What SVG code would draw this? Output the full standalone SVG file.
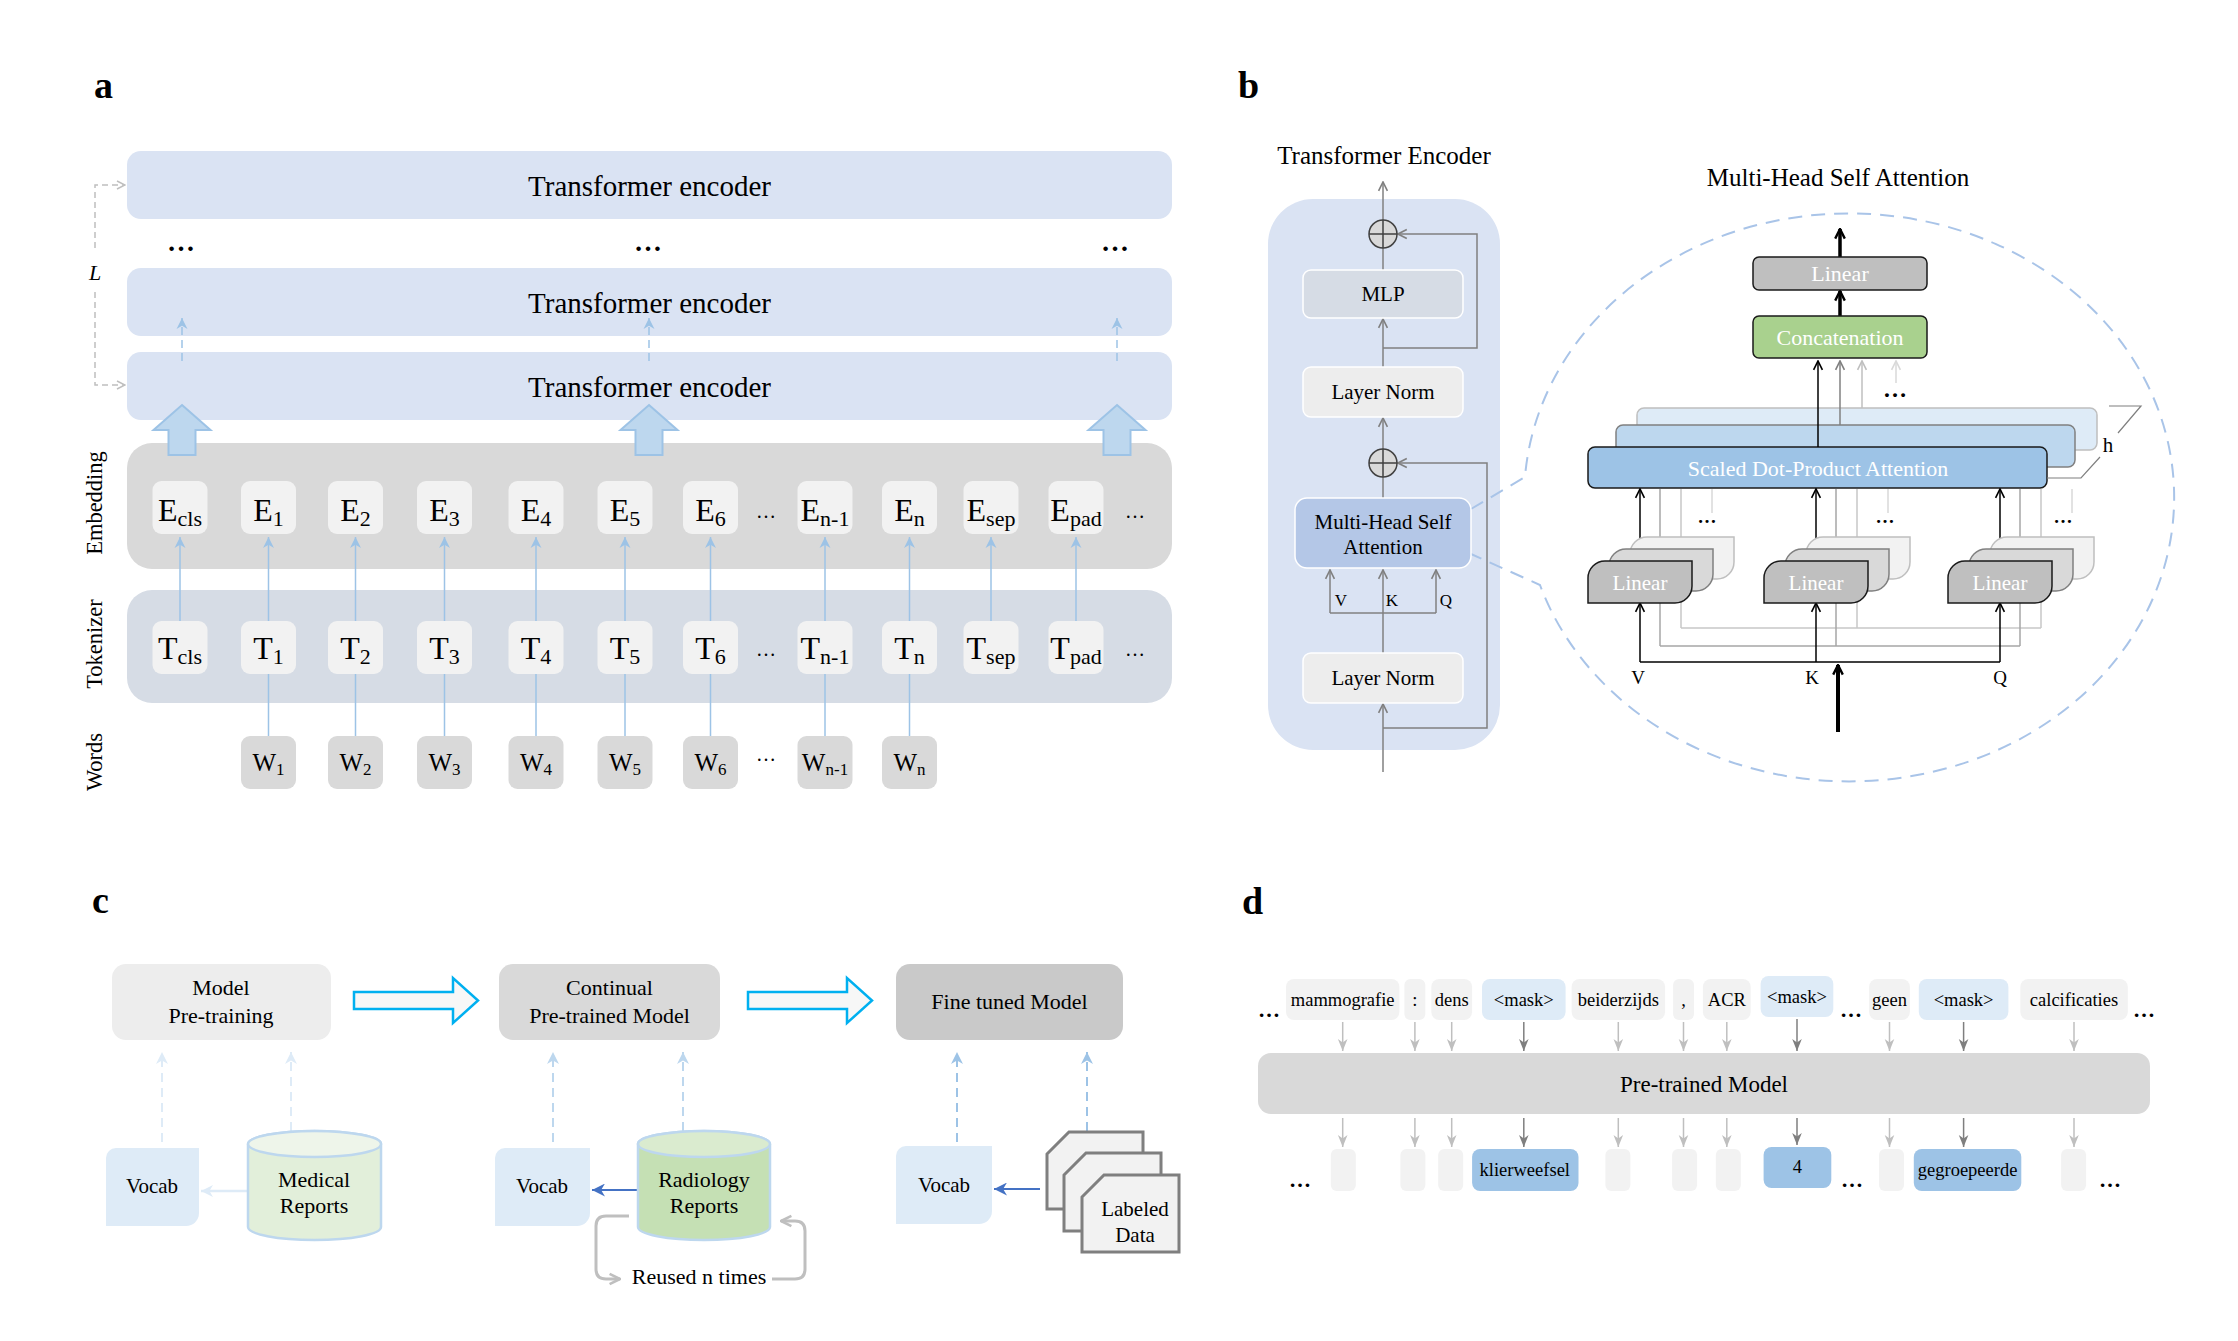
<svg xmlns="http://www.w3.org/2000/svg" width="2238" height="1341" viewBox="0 0 2238 1341">
<defs>
<style>
text{font-family:"Liberation Serif","Times New Roman",serif;fill:#000}
.pl{font-size:38px;font-weight:bold}
.m{text-anchor:middle}
.enc{fill:#dae3f3}
.tk{fill:#f2f2f2}
.wd{fill:#d9d9d9}
.t28{font-size:29px;text-anchor:middle}
.etx{font-size:32px;text-anchor:middle}
.wtx{font-size:25px;text-anchor:middle}
.sub{font-size:22px}
.wsub{font-size:17px}
.side{font-size:22.5px;text-anchor:middle}
.ca{stroke:#9dc3e6;stroke-width:1.5;fill:none}
.gl{stroke:#808080;stroke-width:1.5;fill:none}
.bk{stroke:#000;stroke-width:1.5;fill:none}
.bb{fill:#ededed;stroke:#fff;stroke-width:1.5}
.t20{font-size:21px;text-anchor:middle}
.t21{font-size:21px;text-anchor:middle}
.t22{font-size:22px;text-anchor:middle}
.wt{fill:#fff}
.f1{fill:#bfbfbf;stroke:#1a1a1a;stroke-width:1.5}
.f2{fill:#d9d9d9;stroke:#808080;stroke-width:1.5}
.f3{fill:#f2f2f2;stroke:#bfbfbf;stroke-width:1.5}
.voc{fill:#deebf7}
.lab{fill:#f2f2f2;stroke:#7f7f7f;stroke-width:3}
.dt{fill:#f2f2f2}
.dm{fill:#deebf7}
.db{fill:#9dc3e6}
.t18{font-size:18.5px;text-anchor:middle}
.dots{font-weight:bold;text-anchor:middle}
</style>
<marker id="mBlue" viewBox="0 0 10 10" refX="10" refY="5" markerWidth="11" markerHeight="13" markerUnits="userSpaceOnUse" orient="auto"><path d="M0,0 L10,5 L0,10 L3,5 Z" fill="#9dc3e6"/></marker>
<marker id="mLoop" viewBox="0 0 10 10" refX="9" refY="5" markerWidth="10" markerHeight="12" markerUnits="userSpaceOnUse" orient="auto"><path d="M1,1 L9,5 L1,9" fill="none" stroke="#bfbfbf" stroke-width="1.5"/></marker>
<marker id="mGray" viewBox="0 0 10 10" refX="9" refY="5" markerWidth="11" markerHeight="12" markerUnits="userSpaceOnUse" orient="auto"><path d="M1,1 L9,5 L1,9" fill="none" stroke="#808080" stroke-width="1.5"/></marker>
<marker id="mBlack" viewBox="0 0 10 10" refX="9" refY="5" markerWidth="11" markerHeight="12" markerUnits="userSpaceOnUse" orient="auto"><path d="M1,1 L9,5 L1,9" fill="none" stroke="#000" stroke-width="1.5"/></marker>
<marker id="mThick" viewBox="0 0 10 10" refX="9" refY="5" markerWidth="12" markerHeight="14" markerUnits="userSpaceOnUse" orient="auto"><path d="M1,1 L9,5 L1,9" fill="none" stroke="#000" stroke-width="2"/></marker>
<marker id="mG2" viewBox="0 0 10 10" refX="9" refY="5" markerWidth="11" markerHeight="12" markerUnits="userSpaceOnUse" orient="auto"><path d="M1,1 L9,5 L1,9" fill="none" stroke="#808080" stroke-width="1.5"/></marker>
<marker id="mG3" viewBox="0 0 10 10" refX="9" refY="5" markerWidth="11" markerHeight="12" markerUnits="userSpaceOnUse" orient="auto"><path d="M1,1 L9,5 L1,9" fill="none" stroke="#bfbfbf" stroke-width="1.5"/></marker>
<marker id="mG4" viewBox="0 0 10 10" refX="9" refY="5" markerWidth="11" markerHeight="12" markerUnits="userSpaceOnUse" orient="auto"><path d="M1,1 L9,5 L1,9" fill="none" stroke="#d9d9d9" stroke-width="1.5"/></marker>
<marker id="mC1" viewBox="0 0 10 10" refX="10" refY="5" markerWidth="12" markerHeight="12" markerUnits="userSpaceOnUse" orient="auto"><path d="M0,0 L10,5 L0,10 L3,5 Z" fill="#deebf7"/></marker>
<marker id="mC2" viewBox="0 0 10 10" refX="10" refY="5" markerWidth="12" markerHeight="12" markerUnits="userSpaceOnUse" orient="auto"><path d="M0,0 L10,5 L0,10 L3,5 Z" fill="#bdd7ee"/></marker>
<marker id="mC3" viewBox="0 0 10 10" refX="10" refY="5" markerWidth="12" markerHeight="12" markerUnits="userSpaceOnUse" orient="auto"><path d="M0,0 L10,5 L0,10 L3,5 Z" fill="#9dc3e6"/></marker>
<marker id="mCB" viewBox="0 0 10 10" refX="10" refY="5" markerWidth="13" markerHeight="13" markerUnits="userSpaceOnUse" orient="auto"><path d="M0,0 L10,5 L0,10 L3,5 Z" fill="#4472c4"/></marker>
<marker id="mRe" viewBox="0 0 10 10" refX="9" refY="5" markerWidth="13" markerHeight="14" markerUnits="userSpaceOnUse" orient="auto"><path d="M1,1 L9,5 L1,9" fill="none" stroke="#bfbfbf" stroke-width="2"/></marker>
<marker id="mD1" viewBox="0 0 10 10" refX="10" refY="5" markerWidth="12" markerHeight="12" markerUnits="userSpaceOnUse" orient="auto"><path d="M0,1 L10,5 L0,9 L3,5 Z" fill="#bfbfbf"/></marker>
<marker id="mD2" viewBox="0 0 10 10" refX="10" refY="5" markerWidth="12" markerHeight="12" markerUnits="userSpaceOnUse" orient="auto"><path d="M0,1 L10,5 L0,9 L3,5 Z" fill="#7f7f7f"/></marker>
</defs>
<rect width="2238" height="1341" fill="#fff"/>

<!-- ================= PANEL A ================= -->
<text class="pl" x="94" y="98">a</text>
<g id="a-enc-top"><rect class="enc" x="127" y="151" width="1045" height="68" rx="14"/><text class="t28" x="649.5" y="196">Transformer encoder</text></g>
<g id="a-enc-mid"><rect class="enc" x="127" y="268" width="1045" height="68" rx="14"/><text class="t28" x="649.5" y="313">Transformer encoder</text></g>
<g id="a-enc-bot"><rect class="enc" x="127" y="352" width="1045" height="68" rx="14"/><text class="t28" x="649.5" y="397">Transformer encoder</text></g>
<g id="a-dots"><text class="dots" font-size="28" x="181" y="251">…</text><text class="dots" font-size="28" x="648" y="251">…</text><text class="dots" font-size="28" x="1115" y="251">…</text></g>
<g id="a-embedding"><rect x="127" y="443" width="1045" height="126" rx="25" fill="#d9d9d9"/></g>
<g id="a-tokenizer"><rect x="127" y="590" width="1045" height="113" rx="25" fill="#d6dce5"/></g>
<g id="a-side-labels">
<text class="side" transform="translate(102,503) rotate(-90)">Embedding</text>
<text class="side" transform="translate(102,644) rotate(-90)">Tokenizer</text>
<text class="side" transform="translate(102,762) rotate(-90)">Words</text>
</g>

<g id="a-connectors">
<path d="M95,248 V185 H125" stroke="#bfbfbf" stroke-width="1.5" stroke-dasharray="6 4" fill="none" marker-end="url(#mLoop)"/>
<path d="M95,292 V385 H125" stroke="#bfbfbf" stroke-width="1.5" stroke-dasharray="6 4" fill="none" marker-end="url(#mLoop)"/>
<line x1="182" y1="361" x2="182" y2="318" class="ca" stroke-dasharray="8 5" marker-end="url(#mBlue)"/>
<line x1="649" y1="361" x2="649" y2="318" class="ca" stroke-dasharray="8 5" marker-end="url(#mBlue)"/>
<line x1="1117" y1="361" x2="1117" y2="318" class="ca" stroke-dasharray="8 5" marker-end="url(#mBlue)"/>
<g fill="#bdd7ee" stroke="#9dc3e6" stroke-width="2">
<polygon points="182,405 210.5,430 195.5,430 195.5,455 168.5,455 168.5,430 153.5,430"/>
<polygon points="649,405 677.5,430 662.5,430 662.5,455 635.5,455 635.5,430 620.5,430"/>
<polygon points="1117,405 1145.5,430 1130.5,430 1130.5,455 1103.5,455 1103.5,430 1088.5,430"/>
</g>
<g class="ca">
<line x1="180" y1="621" x2="180" y2="537" marker-end="url(#mBlue)"/>
<line x1="268.5" y1="621" x2="268.5" y2="537" marker-end="url(#mBlue)"/>
<line x1="355.5" y1="621" x2="355.5" y2="537" marker-end="url(#mBlue)"/>
<line x1="444.5" y1="621" x2="444.5" y2="537" marker-end="url(#mBlue)"/>
<line x1="536" y1="621" x2="536" y2="537" marker-end="url(#mBlue)"/>
<line x1="625" y1="621" x2="625" y2="537" marker-end="url(#mBlue)"/>
<line x1="710.5" y1="621" x2="710.5" y2="537" marker-end="url(#mBlue)"/>
<line x1="825" y1="621" x2="825" y2="537" marker-end="url(#mBlue)"/>
<line x1="909.5" y1="621" x2="909.5" y2="537" marker-end="url(#mBlue)"/>
<line x1="991" y1="621" x2="991" y2="537" marker-end="url(#mBlue)"/>
<line x1="1076" y1="621" x2="1076" y2="537" marker-end="url(#mBlue)"/>
<path d="M268.5,736V674M355.5,736V674M444.5,736V674M536,736V674M625,736V674M710.5,736V674M825,736V674M909.5,736V674"/>
</g>
</g>
<text x="95" y="280" font-size="22" font-style="italic" class="m">L</text>

<g id="a-E">
<g id="E-cls"><rect class="tk" x="152.5" y="481" width="55" height="53" rx="9"/><text class="etx" x="180" y="521">E<tspan class="sub" dy="5">cls</tspan></text></g>
<g id="E-1"><rect class="tk" x="241" y="481" width="55" height="53" rx="9"/><text class="etx" x="268.5" y="521">E<tspan class="sub" dy="5">1</tspan></text></g>
<g id="E-2"><rect class="tk" x="328" y="481" width="55" height="53" rx="9"/><text class="etx" x="355.5" y="521">E<tspan class="sub" dy="5">2</tspan></text></g>
<g id="E-3"><rect class="tk" x="417" y="481" width="55" height="53" rx="9"/><text class="etx" x="444.5" y="521">E<tspan class="sub" dy="5">3</tspan></text></g>
<g id="E-4"><rect class="tk" x="508.5" y="481" width="55" height="53" rx="9"/><text class="etx" x="536" y="521">E<tspan class="sub" dy="5">4</tspan></text></g>
<g id="E-5"><rect class="tk" x="597.5" y="481" width="55" height="53" rx="9"/><text class="etx" x="625" y="521">E<tspan class="sub" dy="5">5</tspan></text></g>
<g id="E-6"><rect class="tk" x="683" y="481" width="55" height="53" rx="9"/><text class="etx" x="710.5" y="521">E<tspan class="sub" dy="5">6</tspan></text></g>
<g id="E-n-1"><rect class="tk" x="797.5" y="481" width="55" height="53" rx="9"/><text class="etx" x="825" y="521">E<tspan class="sub" dy="5">n-1</tspan></text></g>
<g id="E-n"><rect class="tk" x="882" y="481" width="55" height="53" rx="9"/><text class="etx" x="909.5" y="521">E<tspan class="sub" dy="5">n</tspan></text></g>
<g id="E-sep"><rect class="tk" x="963.5" y="481" width="55" height="53" rx="9"/><text class="etx" x="991" y="521">E<tspan class="sub" dy="5">sep</tspan></text></g>
<g id="E-pad"><rect class="tk" x="1048.5" y="481" width="55" height="53" rx="9"/><text class="etx" x="1076" y="521">E<tspan class="sub" dy="5">pad</tspan></text></g>
<text x="766" y="518" font-size="20" class="m">…</text><text x="1135" y="518" font-size="20" class="m">…</text>
</g>
<g id="a-T">
<g id="T-cls"><rect class="tk" x="152.5" y="621" width="55" height="53" rx="9"/><text class="etx" x="180" y="659">T<tspan class="sub" dy="5">cls</tspan></text></g>
<g id="T-1"><rect class="tk" x="241" y="621" width="55" height="53" rx="9"/><text class="etx" x="268.5" y="659">T<tspan class="sub" dy="5">1</tspan></text></g>
<g id="T-2"><rect class="tk" x="328" y="621" width="55" height="53" rx="9"/><text class="etx" x="355.5" y="659">T<tspan class="sub" dy="5">2</tspan></text></g>
<g id="T-3"><rect class="tk" x="417" y="621" width="55" height="53" rx="9"/><text class="etx" x="444.5" y="659">T<tspan class="sub" dy="5">3</tspan></text></g>
<g id="T-4"><rect class="tk" x="508.5" y="621" width="55" height="53" rx="9"/><text class="etx" x="536" y="659">T<tspan class="sub" dy="5">4</tspan></text></g>
<g id="T-5"><rect class="tk" x="597.5" y="621" width="55" height="53" rx="9"/><text class="etx" x="625" y="659">T<tspan class="sub" dy="5">5</tspan></text></g>
<g id="T-6"><rect class="tk" x="683" y="621" width="55" height="53" rx="9"/><text class="etx" x="710.5" y="659">T<tspan class="sub" dy="5">6</tspan></text></g>
<g id="T-n-1"><rect class="tk" x="797.5" y="621" width="55" height="53" rx="9"/><text class="etx" x="825" y="659">T<tspan class="sub" dy="5">n-1</tspan></text></g>
<g id="T-n"><rect class="tk" x="882" y="621" width="55" height="53" rx="9"/><text class="etx" x="909.5" y="659">T<tspan class="sub" dy="5">n</tspan></text></g>
<g id="T-sep"><rect class="tk" x="963.5" y="621" width="55" height="53" rx="9"/><text class="etx" x="991" y="659">T<tspan class="sub" dy="5">sep</tspan></text></g>
<g id="T-pad"><rect class="tk" x="1048.5" y="621" width="55" height="53" rx="9"/><text class="etx" x="1076" y="659">T<tspan class="sub" dy="5">pad</tspan></text></g>
<text x="766" y="656" font-size="20" class="m">…</text><text x="1135" y="656" font-size="20" class="m">…</text>
</g>
<g id="a-W">
<g id="W-1"><rect class="wd" x="241" y="736" width="55" height="53" rx="9"/><text class="wtx" x="268.5" y="771">W<tspan class="wsub" dy="4">1</tspan></text></g>
<g id="W-2"><rect class="wd" x="328" y="736" width="55" height="53" rx="9"/><text class="wtx" x="355.5" y="771">W<tspan class="wsub" dy="4">2</tspan></text></g>
<g id="W-3"><rect class="wd" x="417" y="736" width="55" height="53" rx="9"/><text class="wtx" x="444.5" y="771">W<tspan class="wsub" dy="4">3</tspan></text></g>
<g id="W-4"><rect class="wd" x="508.5" y="736" width="55" height="53" rx="9"/><text class="wtx" x="536" y="771">W<tspan class="wsub" dy="4">4</tspan></text></g>
<g id="W-5"><rect class="wd" x="597.5" y="736" width="55" height="53" rx="9"/><text class="wtx" x="625" y="771">W<tspan class="wsub" dy="4">5</tspan></text></g>
<g id="W-6"><rect class="wd" x="683" y="736" width="55" height="53" rx="9"/><text class="wtx" x="710.5" y="771">W<tspan class="wsub" dy="4">6</tspan></text></g>
<g id="W-n-1"><rect class="wd" x="797.5" y="736" width="55" height="53" rx="9"/><text class="wtx" x="825" y="771">W<tspan class="wsub" dy="4">n-1</tspan></text></g>
<g id="W-n"><rect class="wd" x="882" y="736" width="55" height="53" rx="9"/><text class="wtx" x="909.5" y="771">W<tspan class="wsub" dy="4">n</tspan></text></g>
<text x="766" y="761" font-size="20" class="m">…</text>
</g>

<!-- ================= PANEL B ================= -->
<text class="pl" x="1238" y="98">b</text>
<g id="b-encoder-panel"><rect x="1268" y="199" width="232" height="551" rx="45" fill="#dae3f3"/></g>
<text x="1384" y="164" font-size="25" class="m">Transformer Encoder</text>
<text x="1838" y="186" font-size="25" class="m">Multi-Head Self Attention</text>
<path id="b-callout" d="M1471,509 L1525,477 A325,284 0 1 1 1540,585 L1471,554" fill="none" stroke="#a9c4e8" stroke-width="2" stroke-dasharray="14 9"/>

<g id="b-sdpa">
<rect x="1637" y="408" width="460" height="42" rx="7" fill="#deebf7" stroke="#bfbfbf" stroke-width="1.5"/>
<rect x="1616" y="425" width="459" height="42" rx="7" fill="#bdd7ee" stroke="#808080" stroke-width="1.5"/>
<rect x="1588" y="447" width="459" height="41" rx="7" fill="#9dc3e6" stroke="#1a1a1a" stroke-width="1.5"/>
<text class="t22 wt" x="1818" y="476">Scaled Dot-Product Attention</text>
</g>

<g id="b-connectors">
<path class="gl" d="M1383,220 V182" marker-end="url(#mGray)"/>
<path class="gl" d="M1383,270 V248"/>
<path class="gl" d="M1383,367 V319" marker-end="url(#mGray)"/>
<path class="gl" d="M1383,449 V418" marker-end="url(#mGray)"/>
<path class="gl" d="M1383,498 V477"/>
<path class="gl" d="M1383,653 V570" marker-end="url(#mGray)"/>
<path class="gl" d="M1330,613 V570" marker-end="url(#mGray)"/>
<path class="gl" d="M1436,613 V570" marker-end="url(#mGray)"/>
<path class="gl" d="M1330,613 H1436"/>
<path class="gl" d="M1383,772 V704" marker-end="url(#mGray)"/>
<path class="gl" d="M1383,728 H1487 V463 H1398" marker-end="url(#mGray)"/>
<path class="gl" d="M1383,348 H1477 V234 H1398" marker-end="url(#mGray)"/>

<path d="M1840,257 V229" stroke="#000" stroke-width="3.5" fill="none" marker-end="url(#mThick)"/>
<path d="M1840,316 V291" stroke="#000" stroke-width="3.5" fill="none" marker-end="url(#mThick)"/>
<path class="bk" d="M1818,447 V361" marker-end="url(#mBlack)"/>
<path d="M1840,425 V361" stroke="#808080" stroke-width="1.5" fill="none" marker-end="url(#mG2)"/>
<path d="M1862,408 V361" stroke="#bfbfbf" stroke-width="1.5" fill="none" marker-end="url(#mG3)"/>
<path d="M1896,383 V361" stroke="#d9d9d9" stroke-width="1.5" fill="none" marker-end="url(#mG4)"/>

<g stroke="#d9d9d9" stroke-width="1.5" fill="none"><path d="M1712,489 V513 M1888,489 V513 M2072,489 V513"/></g>
<g stroke="#c8c8c8" stroke-width="1.5" fill="none"><path d="M1681,489 V628 M1857,489 V628 M2041,489 V628 M1681,628 H2041"/></g>
<g stroke="#a6a6a6" stroke-width="1.5" fill="none"><path d="M1660,489 V646 M1836,489 V646 M2020,489 V646 M1660,646 H2020"/></g>
<path class="bk" d="M1640,662 H2000"/>
<path class="bk" d="M1640,662 V603" marker-end="url(#mBlack)"/>
<path class="bk" d="M1816,662 V603" marker-end="url(#mBlack)"/>
<path class="bk" d="M2000,662 V603" marker-end="url(#mBlack)"/>
<path class="bk" d="M1640,561 V489" marker-end="url(#mBlack)"/>
<path class="bk" d="M1816,561 V489" marker-end="url(#mBlack)"/>
<path class="bk" d="M2000,561 V489" marker-end="url(#mBlack)"/>
<path d="M1838,732 V665" stroke="#000" stroke-width="4" fill="none" marker-end="url(#mThick)"/>
<path d="M2047,478 H2081 L2100,457 M2109,406 H2141 L2118,433" stroke="#7f7f7f" stroke-width="1.2" fill="none"/>
</g>

<g id="b-add1"><circle cx="1383" cy="234" r="14" fill="#d9d9d9" stroke="#404040" stroke-width="1.5"/><path d="M1369,234H1397M1383,220V248" stroke="#404040" stroke-width="1.5"/></g>
<g id="b-mlp"><rect x="1303" y="270" width="160" height="48" rx="8" fill="#d6dce5" stroke="#fff" stroke-width="1.5"/><text class="t20" x="1383" y="301">MLP</text></g>
<g id="b-ln1"><rect class="bb" x="1303" y="367" width="160" height="50" rx="8"/><text class="t20" x="1383" y="399">Layer Norm</text></g>
<g id="b-add2"><circle cx="1383" cy="463" r="14" fill="#d9d9d9" stroke="#404040" stroke-width="1.5"/><path d="M1369,463H1397M1383,449V477" stroke="#404040" stroke-width="1.5"/></g>
<g id="b-mhsa"><rect x="1295" y="498" width="176" height="70" rx="12" fill="#b4c7e7" stroke="#fff" stroke-width="1.5"/><text class="t20" x="1383" y="529">Multi-Head Self</text><text class="t20" x="1383" y="554">Attention</text></g>
<g id="b-vkq-labels"><text x="1341" y="606" font-size="17" class="m">V</text><text x="1392" y="606" font-size="17" class="m">K</text><text x="1446" y="606" font-size="17" class="m">Q</text></g>
<g id="b-ln2"><rect class="bb" x="1303" y="653" width="160" height="50" rx="8"/><text class="t20" x="1383" y="685">Layer Norm</text></g>

<g id="b-linear-out"><rect x="1753" y="257" width="174" height="33" rx="6" fill="#bfbfbf" stroke="#1a1a1a" stroke-width="1.5"/><text class="t22 wt" x="1840" y="281">Linear</text></g>
<g id="b-concat"><rect x="1753" y="316" width="174" height="42" rx="6" fill="#a9d18e" stroke="#1a1a1a" stroke-width="1.5"/><text class="t22 wt" x="1840" y="345">Concatenation</text></g>
<text x="1895" y="397" font-size="24" class="dots">…</text>
<text x="2108" y="452" font-size="21" class="m">h</text>
<g id="b-dots-low"><text x="1707" y="523" font-size="19" class="dots">…</text><text x="1885" y="523" font-size="19" class="dots">…</text><text x="2063" y="523" font-size="19" class="dots">…</text></g>

<g id="b-linear-v">
<path class="f3" d="M1630,579 V554 A17,17 0 0 1 1647,537 H1734 V562 A17,17 0 0 1 1717,579 Z"/>
<path class="f2" d="M1609,591 V566 A17,17 0 0 1 1626,549 H1713 V574 A17,17 0 0 1 1696,591 Z"/>
<path class="f1" d="M1588,603 V578 A17,17 0 0 1 1605,561 H1692 V586 A17,17 0 0 1 1675,603 Z"/>
<text class="t21 wt" x="1640" y="590">Linear</text>
</g>
<g id="b-linear-k">
<path class="f3" d="M1806,579 V554 A17,17 0 0 1 1823,537 H1910 V562 A17,17 0 0 1 1893,579 Z"/>
<path class="f2" d="M1785,591 V566 A17,17 0 0 1 1802,549 H1889 V574 A17,17 0 0 1 1872,591 Z"/>
<path class="f1" d="M1764,603 V578 A17,17 0 0 1 1781,561 H1868 V586 A17,17 0 0 1 1851,603 Z"/>
<text class="t21 wt" x="1816" y="590">Linear</text>
</g>
<g id="b-linear-q">
<path class="f3" d="M1990,579 V554 A17,17 0 0 1 2007,537 H2094 V562 A17,17 0 0 1 2077,579 Z"/>
<path class="f2" d="M1969,591 V566 A17,17 0 0 1 1986,549 H2073 V574 A17,17 0 0 1 2056,591 Z"/>
<path class="f1" d="M1948,603 V578 A17,17 0 0 1 1965,561 H2052 V586 A17,17 0 0 1 2035,603 Z"/>
<text class="t21 wt" x="2000" y="590">Linear</text>
</g>
<g id="b-vkq-in"><text x="1638" y="684" font-size="19" class="m">V</text><text x="1812" y="684" font-size="19" class="m">K</text><text x="2000" y="684" font-size="19" class="m">Q</text></g>

<!-- ================= PANEL C ================= -->
<text class="pl" x="92" y="913">c</text>
<g id="c-connectors">
<path d="M162,1142 V1052" stroke="#deebf7" stroke-width="2" stroke-dasharray="9 6" fill="none" marker-end="url(#mC1)"/>
<path d="M291,1131 V1052" stroke="#deebf7" stroke-width="2" stroke-dasharray="9 6" fill="none" marker-end="url(#mC1)"/>
<path d="M553,1142 V1052" stroke="#bdd7ee" stroke-width="2" stroke-dasharray="9 6" fill="none" marker-end="url(#mC2)"/>
<path d="M683,1131 V1052" stroke="#bdd7ee" stroke-width="2" stroke-dasharray="9 6" fill="none" marker-end="url(#mC2)"/>
<path d="M957,1142 V1052" stroke="#9dc3e6" stroke-width="2" stroke-dasharray="9 6" fill="none" marker-end="url(#mC3)"/>
<path d="M1087,1131 V1052" stroke="#9dc3e6" stroke-width="2" stroke-dasharray="9 6" fill="none" marker-end="url(#mC3)"/>
<path d="M248,1191 H201" stroke="#deebf7" stroke-width="2.5" fill="none" marker-end="url(#mC1)"/>
<path d="M637,1190 H592" stroke="#4472c4" stroke-width="2" fill="none" marker-end="url(#mCB)"/>
<path d="M1040,1189 H994" stroke="#4472c4" stroke-width="2" fill="none" marker-end="url(#mCB)"/>
<path d="M354,992 H453 V978 L478,1000.5 L453,1023 V1009 H354 Z" fill="#f7f7f7" stroke="#00b0f0" stroke-width="2.5"/>
<path d="M748,992 H847 V978 L872,1000.5 L847,1023 V1009 H748 Z" fill="#f7f7f7" stroke="#00b0f0" stroke-width="2.5"/>
<path d="M629,1216 H606 Q596,1216 596,1226 V1269 Q596,1279 606,1279 H620" stroke="#bfbfbf" stroke-width="3" fill="none" marker-end="url(#mRe)"/>
<path d="M772,1279 H795 Q805,1279 805,1269 V1231 Q805,1221 795,1221 H781" stroke="#bfbfbf" stroke-width="3" fill="none" marker-end="url(#mRe)"/>
</g>
<g id="c-pretrain"><rect x="112" y="964" width="219" height="76" rx="14" fill="#ededed"/><text class="t22" x="221" y="995">Model</text><text class="t22" x="221" y="1023">Pre-training</text></g>
<g id="c-continual"><rect x="499" y="964" width="221" height="76" rx="14" fill="#d9d9d9"/><text class="t22" x="609.5" y="995">Continual</text><text class="t22" x="609.5" y="1023">Pre-trained Model</text></g>
<g id="c-finetuned"><rect x="896" y="964" width="227" height="76" rx="14" fill="#c9c9c9"/><text class="t22" x="1009.5" y="1009">Fine tuned Model</text></g>
<g id="c-vocab1"><path class="voc" d="M106,1158 A10,10 0 0 1 116,1148 H199 V1213 A13,13 0 0 1 186,1226 H106 Z"/><text class="t21" x="152" y="1193">Vocab</text></g>
<g id="c-medical">
<path d="M248,1144 A66.5,13 0 0 1 381,1144 V1227 A66.5,13 0 0 1 248,1227 Z" fill="#e2efda" stroke="#bdd7ee" stroke-width="2.5"/>
<ellipse cx="314.5" cy="1144" rx="66.5" ry="13" fill="#eef5ea" stroke="#bdd7ee" stroke-width="2.5"/>
<text class="t22" x="314" y="1187">Medical</text><text class="t22" x="314" y="1213">Reports</text>
</g>
<g id="c-vocab2"><path class="voc" d="M495,1158 A10,10 0 0 1 505,1148 H590 V1213 A13,13 0 0 1 577,1226 H495 Z"/><text class="t21" x="542" y="1193">Vocab</text></g>
<g id="c-radiology">
<path d="M638,1144 A66,13 0 0 1 770,1144 V1227 A66,13 0 0 1 638,1227 Z" fill="#c5e0b4" stroke="#bdd7ee" stroke-width="2.5"/>
<ellipse cx="704" cy="1144" rx="66" ry="13" fill="#daebcf" stroke="#bdd7ee" stroke-width="2.5"/>
<text class="t22" x="704" y="1187">Radiology</text><text class="t22" x="704" y="1213">Reports</text>
</g>
<text class="t22" x="699" y="1284">Reused n times</text>
<g id="c-vocab3"><path class="voc" d="M896,1156 A10,10 0 0 1 906,1146 H992 V1211 A13,13 0 0 1 979,1224 H896 Z"/><text class="t21" x="944" y="1192">Vocab</text></g>
<g id="c-labeled">
<path class="lab" d="M1047,1154 L1069,1132 H1143 V1209 H1047 Z"/>
<path class="lab" d="M1064,1175 L1086,1153 H1161 V1231 H1064 Z"/>
<path class="lab" d="M1082,1197 L1104,1175 H1179 V1252 H1082 Z"/>
<text class="t21" x="1135" y="1216">Labeled</text><text class="t21" x="1135" y="1242">Data</text>
</g>

<!-- ================= PANEL D ================= -->
<text class="pl" x="1242" y="914">d</text>
<g id="d-connectors">
<g stroke="#bfbfbf" stroke-width="1.5" fill="none">
<path d="M1342.7,1022 V1051" marker-end="url(#mD1)"/><path d="M1414.9,1022 V1051" marker-end="url(#mD1)"/><path d="M1451.7,1022 V1051" marker-end="url(#mD1)"/><path d="M1618.3,1022 V1051" marker-end="url(#mD1)"/><path d="M1683.5,1022 V1051" marker-end="url(#mD1)"/><path d="M1726.8,1022 V1051" marker-end="url(#mD1)"/><path d="M1889.5,1022 V1051" marker-end="url(#mD1)"/><path d="M2074,1022 V1051" marker-end="url(#mD1)"/>
<path d="M1342.7,1118 V1147" marker-end="url(#mD1)"/><path d="M1414.9,1118 V1147" marker-end="url(#mD1)"/><path d="M1451.7,1118 V1147" marker-end="url(#mD1)"/><path d="M1618.3,1118 V1147" marker-end="url(#mD1)"/><path d="M1683.5,1118 V1147" marker-end="url(#mD1)"/><path d="M1726.8,1118 V1147" marker-end="url(#mD1)"/><path d="M1889.5,1118 V1147" marker-end="url(#mD1)"/><path d="M2074,1118 V1147" marker-end="url(#mD1)"/>
</g>
<g stroke="#7f7f7f" stroke-width="1.5" fill="none">
<path d="M1523.8,1022 V1051" marker-end="url(#mD2)"/><path d="M1797,1019 V1051" marker-end="url(#mD2)"/><path d="M1963.6,1022 V1051" marker-end="url(#mD2)"/>
<path d="M1523.8,1118 V1147" marker-end="url(#mD2)"/><path d="M1797,1118 V1145" marker-end="url(#mD2)"/><path d="M1963.6,1118 V1147" marker-end="url(#mD2)"/>
</g>
</g>
<g id="d-tokens">
<g id="d-t1"><rect class="dt" x="1286" y="979" width="113.4" height="41" rx="8"/><text class="t18" x="1342.7" y="1006">mammografie</text></g>
<g id="d-t2"><rect class="dt" x="1404.4" y="979" width="20.9" height="41" rx="6"/><text class="t18" x="1414.9" y="1006">:</text></g>
<g id="d-t3"><rect class="dt" x="1431.3" y="979" width="40.8" height="41" rx="8"/><text class="t18" x="1451.7" y="1006">dens</text></g>
<g id="d-t4"><rect class="dm" x="1482" y="979" width="83.6" height="41" rx="8"/><text class="t18" x="1523.8" y="1006">&lt;mask&gt;</text></g>
<g id="d-t5"><rect class="dt" x="1571.6" y="979" width="93.5" height="41" rx="8"/><text class="t18" x="1618.3" y="1006">beiderzijds</text></g>
<g id="d-t6"><rect class="dt" x="1673.1" y="979" width="20.9" height="41" rx="6"/><text class="t18" x="1683.5" y="1006">,</text></g>
<g id="d-t7"><rect class="dt" x="1702.9" y="979" width="47.8" height="41" rx="8"/><text class="t18" x="1726.8" y="1006">ACR</text></g>
<g id="d-t8"><rect class="dm" x="1760.6" y="976" width="72.7" height="41" rx="8"/><text class="t18" x="1797" y="1003">&lt;mask&gt;</text></g>
<g id="d-t9"><rect class="dt" x="1869.1" y="979" width="40.8" height="41" rx="8"/><text class="t18" x="1889.5" y="1006">geen</text></g>
<g id="d-t10"><rect class="dm" x="1918.8" y="979" width="89.6" height="41" rx="8"/><text class="t18" x="1963.6" y="1006">&lt;mask&gt;</text></g>
<g id="d-t11"><rect class="dt" x="2020.3" y="979" width="107.5" height="41" rx="8"/><text class="t18" x="2074" y="1006">calcificaties</text></g>
<text x="1269" y="1017" font-size="22" class="dots">…</text><text x="1851" y="1017" font-size="22" class="dots">…</text><text x="2144" y="1017" font-size="22" class="dots">…</text>
</g>
<g id="d-model"><rect x="1258" y="1053" width="892" height="61" rx="13" fill="#d9d9d9"/><text x="1704" y="1092" font-size="23" class="m">Pre-trained Model</text></g>
<g id="d-outputs">
<rect class="dt" x="1330.8" y="1149" width="25" height="42" rx="6"/>
<rect class="dt" x="1400.4" y="1149" width="25" height="42" rx="6"/>
<rect class="dt" x="1438.2" y="1149" width="25" height="42" rx="6"/>
<g id="d-o1"><rect class="db" x="1472.1" y="1149" width="106.4" height="42" rx="8"/><text class="t18" x="1524.8" y="1176">klierweefsel</text></g>
<rect class="dt" x="1605.4" y="1149" width="25" height="42" rx="6"/>
<rect class="dt" x="1672.1" y="1149" width="25" height="42" rx="6"/>
<rect class="dt" x="1715.8" y="1149" width="25" height="42" rx="6"/>
<g id="d-o2"><rect class="db" x="1763.6" y="1147" width="67.7" height="41" rx="8"/><text class="t18" x="1797.4" y="1173">4</text></g>
<rect class="dt" x="1879" y="1149" width="25" height="42" rx="6"/>
<g id="d-o3"><rect class="db" x="1913.8" y="1149" width="107.5" height="42" rx="8"/><text class="t18" x="1967.6" y="1176">gegroepeerde</text></g>
<rect class="dt" x="2061.1" y="1149" width="25" height="42" rx="6"/>
<text x="1300" y="1187" font-size="22" class="dots">…</text><text x="1852" y="1187" font-size="22" class="dots">…</text><text x="2110" y="1187" font-size="22" class="dots">…</text>
</g>
</svg>
